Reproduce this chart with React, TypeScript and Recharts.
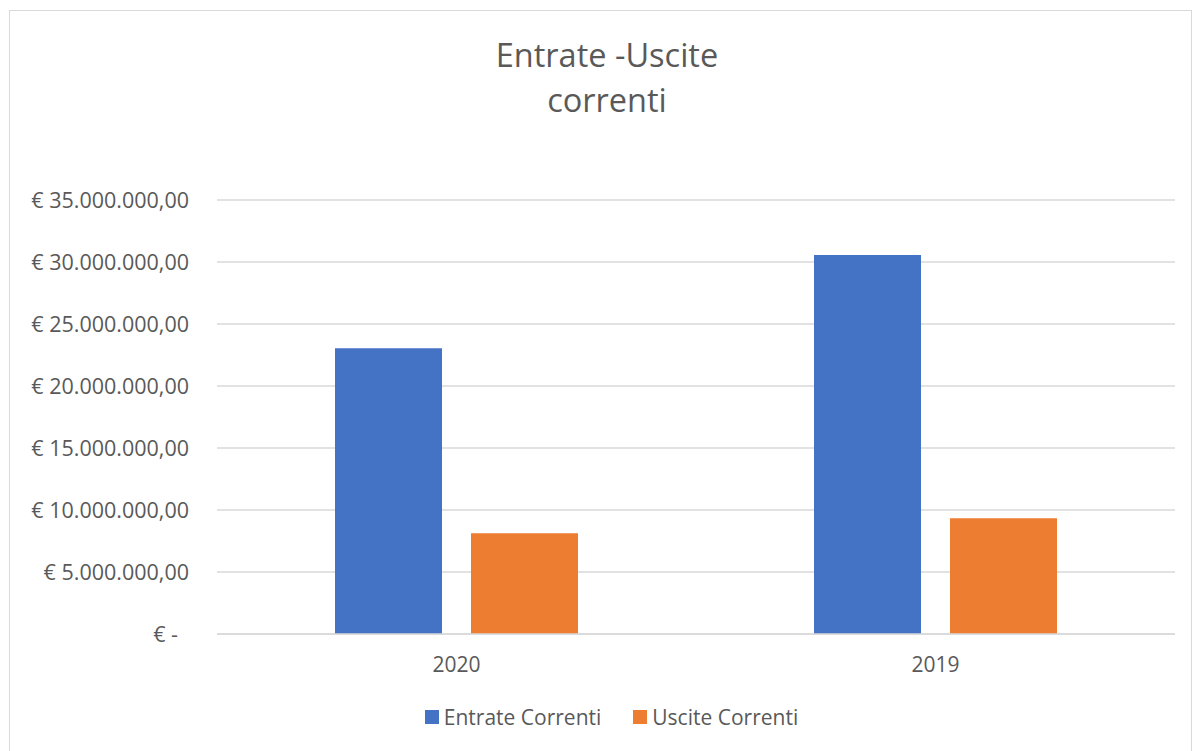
import { BarChart, Bar, XAxis, YAxis, CartesianGrid, Legend } from 'recharts';

const years = ['2020', '2019'];
const entrateCorrenti = [23040000, 30560000];
const usciteCorrenti = [8120000, 9330000];
const yTicks = [0, 5000000, 10000000, 15000000, 20000000, 25000000, 30000000, 35000000];

const chartData = years.map((year, i) => ({
  year,
  'Entrate Correnti': entrateCorrenti[i],
  'Uscite Correnti': usciteCorrenti[i],
}));

const FONT = '"Open Sans", sans-serif';
const TEXT = '#595959';
const GRID = '#d9d9d9';

function formatEuro(v: number) {
  if (v === 0) return '€ -';
  const s = Math.round(v).toString().replace(/\B(?=(\d{3})+(?!\d))/g, '.');
  return '€ ' + s + ',00';
}

function YTick(props: any) {
  const { x, y, payload } = props;
  const isZero = payload.value === 0;
  return (
    <text x={isZero ? x - 11 : x} y={y} dy="0.36em" textAnchor="end" fill={TEXT}
      fontSize={21.5} fontFamily={FONT}>
      {formatEuro(payload.value)}
    </text>
  );
}

function LegendContent(props: any) {
  const { payload } = props;
  return (
    <div style={{ display: 'flex', justifyContent: 'center', height: 28, alignItems: 'center', paddingLeft: 48, fontFamily: FONT, fontSize: 21, color: TEXT }}>
      {payload.map((entry: any, i: number) => (
        <div key={entry.value} style={{ display: 'flex', alignItems: 'center', marginLeft: i === 0 ? 0 : 32 }}>
          <span style={{ display: 'inline-block', width: 14, height: 14, background: entry.color, marginRight: 5 }} />
          <span>{entry.value}</span>
        </div>
      ))}
    </div>
  );
}

export default function App() {
  return (
    <div style={{ position: 'absolute', left: 0, top: 0, width: 1194, height: 751, background: '#fff', overflow: 'hidden' }}>
      <div style={{ position: 'absolute', left: 9, top: 10, width: 1181, height: 760, border: `1px solid ${GRID}` }} />
      <div style={{ position: 'absolute', left: 407, top: 32, width: 400, textAlign: 'center', fontFamily: FONT, fontSize: 32.5, lineHeight: '45px', color: TEXT }}>
        Entrate -Uscite<br />correnti
      </div>
      <div style={{ position: 'absolute', left: 0, top: 0 }}>
        <BarChart width={1194} height={751} data={chartData}
          margin={{ top: 200, right: 19, left: 0, bottom: 20 }}
          barSize={107} barGap={29}>
          <CartesianGrid vertical={false} stroke={GRID} strokeWidth={1.3} />
          <XAxis dataKey="year" height={69} tickLine={false} tickSize={0} tickMargin={23}
            axisLine={{ stroke: GRID, strokeWidth: 1.3 }}
            tick={{ fill: TEXT, fontSize: 21, fontFamily: FONT }} />
          <YAxis width={217} domain={[0, 35000000]} ticks={yTicks} interval={0}
            axisLine={false} tickLine={false} tickSize={0} tickMargin={28} tick={<YTick />} />
          <Legend verticalAlign="bottom" height={28} content={<LegendContent />} />
          <Bar dataKey="Entrate Correnti" fill="#4472C4" isAnimationActive={false} />
          <Bar dataKey="Uscite Correnti" fill="#ED7D31" isAnimationActive={false} />
        </BarChart>
      </div>
    </div>
  );
}
